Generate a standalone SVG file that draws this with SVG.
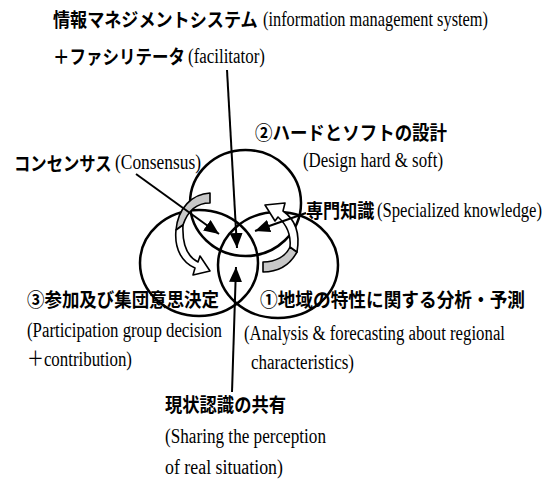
<svg xmlns="http://www.w3.org/2000/svg" width="555" height="483" viewBox="0 0 555 483">
<style>
.jp{font-family:"Noto Sans CJK JP",sans-serif;font-weight:bold;font-size:19px;fill:#000}
.en{font-family:"Liberation Serif","Noto Sans CJK JP",serif;font-size:20px;fill:#000}
.ring{fill:none;stroke:#000;stroke-width:2.5}
.ln{stroke:#000;stroke-width:2;fill:none}
.band{stroke:#000;stroke-width:1.6;stroke-linejoin:round}
</style>
<defs>
<marker id="ah" markerUnits="userSpaceOnUse" markerWidth="15" markerHeight="13" refX="15" refY="6.5" orient="auto">
<path d="M0,0 L15,6.5 L0,13 Z" fill="#000"/>
</marker>
</defs>
<rect width="555" height="483" fill="#fff"/>

<g id="circle-design">
<ellipse class="ring" cx="245.5" cy="203" rx="55.5" ry="53"/>
</g>
<g id="circle-participation">
<ellipse class="ring" cx="199" cy="263" rx="59" ry="53"/>
</g>
<g id="circle-analysis">
<ellipse class="ring" cx="278" cy="265" rx="60" ry="53"/>
</g>

<g id="cycle-arrow-left">
<path class="band" fill="#c8c8c8" d="M210,193 L210,203 C198,203 188,210 183,225 L176,230 C178,208 192,194 210,193 Z"/>
<path class="band" fill="#fff" d="M176,230 C174,250 183,263 195,268 L193,275 L210,271 L200,256 L198,262 C188,257 182,245 183,225 Z"/>
</g>
<g id="cycle-arrow-right">
<path class="band" fill="#c8c8c8" d="M263,262 L263,272 C278,272 290,265 297,252 L290,247 C286,256 276,262 263,262 Z"/>
<path class="band" fill="#fff" d="M297,252 C300,235 296,220 283,211 L285,203 L265,205 L275,221 L278,217 C287,225 291,236 290,247 Z"/>
</g>

<g id="connectors">
<line class="ln" x1="227" y1="70" x2="237" y2="248" marker-end="url(#ah)"/>
<line class="ln" x1="136" y1="174" x2="219" y2="234" marker-end="url(#ah)"/>
<line class="ln" x1="306" y1="213" x2="255" y2="231" marker-end="url(#ah)"/>
<line class="ln" x1="232" y1="392" x2="236" y2="267" marker-end="url(#ah)"/>
</g>

<g id="label-ims">
<text class="jp" transform="translate(53,27) scale(0.9,1)">情報マネジメントシステム</text>
<text class="en" transform="translate(263,26) scale(0.817,1)">(information management system)</text>
<text class="jp" transform="translate(53,64) scale(0.868,1)">＋ファシリテータ</text>
<text class="en" transform="translate(188,63) scale(0.846,1)">(facilitator)</text>
</g>
<g id="label-design">
<text class="jp" x="255" y="140" textLength="192" lengthAdjust="spacingAndGlyphs">②ハードとソフトの設計</text>
<text class="en" x="303" y="167" textLength="140" lengthAdjust="spacingAndGlyphs">(Design hard &amp; soft)</text>
</g>
<g id="label-consensus">
<text class="jp" transform="translate(14,171) scale(0.86,1)">コンセンサス</text>
<text class="en" transform="translate(115,169) scale(0.87,1)">(Consensus)</text>
</g>
<g id="label-knowledge">
<text class="jp" transform="translate(306,218) scale(0.9,1)">専門知識</text>
<text class="en" transform="translate(377,217) scale(0.833,1)">(Specialized knowledge)</text>
</g>
<g id="label-participation">
<text class="jp" x="27" y="307" textLength="192" lengthAdjust="spacingAndGlyphs">③参加及び集団意思決定</text>
<text class="en" x="27" y="337" textLength="195" lengthAdjust="spacingAndGlyphs">(Participation group decision</text>
<text class="en" x="27" y="366" textLength="105" lengthAdjust="spacingAndGlyphs">＋contribution)</text>
</g>
<g id="label-analysis">
<text class="jp" x="260" y="307" textLength="265" lengthAdjust="spacingAndGlyphs">①地域の特性に関する分析・予測</text>
<text class="en" x="244" y="340" textLength="261" lengthAdjust="spacingAndGlyphs">(Analysis &amp; forecasting about regional</text>
<text class="en" x="251" y="369" textLength="103" lengthAdjust="spacingAndGlyphs">characteristics)</text>
</g>
<g id="label-sharing">
<text class="jp" x="165" y="412" textLength="121" lengthAdjust="spacingAndGlyphs">現状認識の共有</text>
<text class="en" x="165" y="443" textLength="161" lengthAdjust="spacingAndGlyphs">(Sharing the perception</text>
<text class="en" x="165" y="474" textLength="118" lengthAdjust="spacingAndGlyphs">of real situation)</text>
</g>
</svg>
